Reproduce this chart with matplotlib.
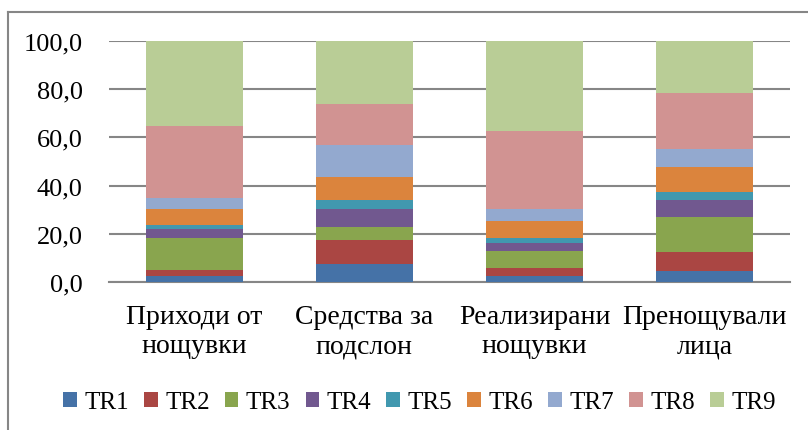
import numpy as np
import matplotlib.pyplot as plt
from matplotlib.ticker import FuncFormatter
from matplotlib.lines import Line2D

plt.rcParams['font.family'] = ['Liberation Serif', 'DejaVu Serif']

categories = ["Приходи от\nнощувки", "Средства за\nподслон", "Реализирани\nнощувки", "Пренощували\nлица"]
series = ["TR1", "TR2", "TR3", "TR4", "TR5", "TR6", "TR7", "TR8", "TR9"]

tr1 = [2.4, 7.3, 2.4, 4.7]
tr2 = [2.7, 10.1, 3.5, 7.6]
tr3 = [13.2, 5.5, 7.1, 14.8]
tr4 = [3.7, 7.4, 3.3, 6.9]
tr5 = [1.8, 3.7, 2.0, 3.2]
tr6 = [6.6, 9.6, 7.1, 10.6]
tr7 = [4.3, 13.4, 5.0, 7.3]
tr8 = [30.0, 16.9, 32.3, 23.3]
tr9 = [35.3, 26.1, 37.3, 21.6]

colors = ["#4572A7", "#AA4643", "#89A54E", "#71588F", "#4198AF",
          "#DB843D", "#93A9CF", "#D19392", "#B9CD96"]

values = [tr1, tr2, tr3, tr4, tr5, tr6, tr7, tr8, tr9]

fig = plt.figure(figsize=(8.08, 4.31), dpi=100)
ax = fig.add_axes([109/808, 1 - 283/431, (790 - 109)/808, (283 - 42)/431])

x = np.arange(len(categories))
bottom = np.zeros(len(categories))
for name, vals, c in zip(series, values, colors):
    ax.bar(x, vals, 0.57, bottom=bottom, color=c, label=name, zorder=3)
    bottom += np.array(vals)

ax.set_xlim(-0.5, len(categories) - 0.5)
ax.set_ylim(0, 100)
ax.set_yticks(np.arange(0, 101, 20))
ax.yaxis.set_major_formatter(FuncFormatter(lambda v, p: f"{v:.1f}".replace(".", ",")))
ax.grid(axis='y', color='#868686', linewidth=1.5, zorder=0)
for s in ['top', 'right', 'left']:
    ax.spines[s].set_visible(False)
ax.spines['bottom'].set_color('#868686')
ax.spines['bottom'].set_linewidth(1.5)
ax.tick_params(axis='y', length=0, pad=19, labelsize=19)
ax.tick_params(axis='x', length=0, pad=16, labelsize=20)
ax.set_xticks(x)
ax.set_xticklabels(categories, linespacing=1.2)

fig.legend(loc='center', bbox_to_anchor=(0.519, 1 - 403/431), ncol=9, frameon=False,
           fontsize=18, handlelength=0.55, handleheight=0.55, handletextpad=0.3,
           columnspacing=0.6)

# chart area border (top and left visible)
fig.add_artist(Line2D([8/808, 1], [1 - 13/431, 1 - 13/431], color='#868686', linewidth=1.5))
fig.add_artist(Line2D([8/808, 8/808], [0, 1 - 13/431], color='#868686', linewidth=1.5))

fig.savefig("out.png", dpi=100)
